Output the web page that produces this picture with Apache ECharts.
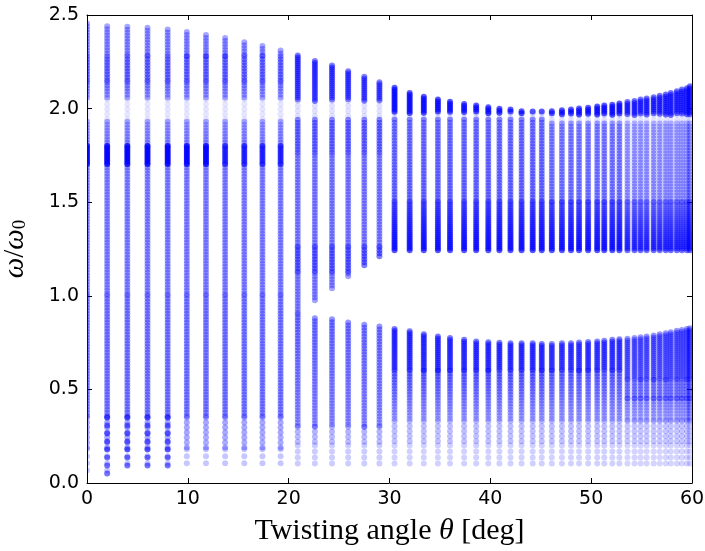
<!DOCTYPE html>
<html>
<head>
<meta charset="utf-8">
<script src="https://cdn.jsdelivr.net/npm/echarts@6/dist/echarts.min.js"></script>
<style>
  html, body { margin: 0; padding: 0; background: #fff; }
  #main { width: 705px; height: 551px; }
</style>
</head>
<body>
<div id="main"></div>
<script>
// twisting angle of each column (deg)
var theta = [0, 2, 4, 6, 8, 9.9, 11.8, 13.7, 15.6, 17.4, 19.2,
    20.9, 22.6, 24.3, 25.9, 27.5, 29.0, 30.5, 32.0, 33.4, 34.8,
    36.0, 37.4, 38.6, 39.8, 40.9, 42.0, 43.1, 44.2, 45.1, 46.1,
    47.1, 48.0, 48.8, 49.7, 50.6, 51.3, 52.1, 52.8, 53.6, 54.3,
    54.9, 55.5, 56.2, 56.8, 57.4, 57.9, 58.5, 59.0, 59.5, 59.8];

// top of upper band
var upTop = [2.455, 2.44, 2.437, 2.432, 2.423, 2.409, 2.393, 2.377, 2.355, 2.334, 2.31,
    2.284, 2.254, 2.23, 2.2, 2.17, 2.141, 2.111, 2.084, 2.063, 2.048,
    2.036, 2.025, 2.016, 2.007, 1.999, 1.995, 1.986, 1.984, 1.984, 1.986,
    1.991, 1.995, 2.0, 2.004, 2.011, 2.016, 2.021, 2.027, 2.035, 2.041,
    2.048, 2.054, 2.061, 2.068, 2.075, 2.084, 2.093, 2.102, 2.109, 2.12];

// bottom of upper band (null = no gap, bands joined)
var upBot = [null, null, null, null, null, null, null, null, null, null, null,
    null, 0.965, 1.025, 1.09, 1.15, 1.205, 1.24, 1.238, 1.243, 1.243,
    1.243, 1.243, 1.243, 1.243, 1.243, 1.243, 1.243, 1.243, 1.243, 1.243,
    1.243, 1.243, 1.243, 1.243, 1.243, 1.243, 1.243, 1.243, 1.243, 1.243,
    1.243, 1.243, 1.243, 1.243, 1.243, 1.243, 1.243, 1.242, 1.241, 1.24];

// top of lower band
var lowTop = [null, null, null, null, null, null, null, null, null, null, null,
    null, 0.88, 0.875, 0.858, 0.845, 0.836, 0.822, 0.81, 0.795, 0.783,
    0.774, 0.765, 0.756, 0.752, 0.749, 0.747, 0.747, 0.747, 0.743, 0.743,
    0.747, 0.747, 0.751, 0.753, 0.756, 0.76, 0.765, 0.768, 0.77, 0.774,
    0.778, 0.783, 0.788, 0.795, 0.8, 0.805, 0.813, 0.817, 0.822, 0.827];

// bottom of lower band
var lowBot = [0.06, 0.045, 0.075, 0.09, 0.085, 0.085, 0.085, 0.085, 0.085, 0.085, 0.085,
    0.085, 0.085, 0.085, 0.085, 0.085, 0.085, 0.085, 0.085, 0.085, 0.085,
    0.085, 0.085, 0.085, 0.085, 0.085, 0.085, 0.085, 0.085, 0.085, 0.085,
    0.085, 0.085, 0.085, 0.085, 0.085, 0.085, 0.085, 0.085, 0.085, 0.085,
    0.085, 0.085, 0.085, 0.085, 0.085, 0.085, 0.085, 0.085, 0.085, 0.085];

// how densely the points sit:
// [yLo, yHi, thetaLo, thetaHi, alpha at yLo, alpha at yHi, spacing px]
var densityRows = [
    // 0 - 20 deg
    [0.0, 0.18, 0, 20, 0.22, 0.22, 7],
    [0.18, 0.35, 0, 20, 0.32, 0.35, 5],
    [0.0, 0.35, 1, 9, 0.55, 0.55, 8],
    [0.35, 1.0, 0, 20, 0.38, 0.38, 3],
    [1.0, 1.7, 0, 20, 0.35, 0.35, 3],
    [1.7, 1.8, 0, 13, 0.75, 0.75, 2],
    [1.7, 1.8, 13, 20, 0.55, 0.55, 2],
    [1.8, 1.93, 0, 20, 0.35, 0.3, 3],
    [1.93, 2.05, 0, 20, 0.1, 0.1, 5],
    [2.05, 2.14, 0, 20, 0.3, 0.4, 3],
    [2.14, 2.28, 0, 20, 0.45, 0.45, 3],
    [2.28, 2.6, 0, 20, 0.35, 0.35, 3],
    // 20 - 30 deg
    [0.0, 0.2, 20, 30, 0.2, 0.2, 6],
    [0.2, 0.3, 20, 30, 0.26, 0.3, 5],
    [0.3, 0.9, 20, 30, 0.32, 0.42, 3],
    [0.9, 1.12, 20, 30, 0.36, 0.36, 3],
    [1.12, 1.26, 20, 30, 0.5, 0.5, 3],
    [1.26, 1.75, 20, 30, 0.36, 0.36, 3],
    [1.75, 1.94, 20, 30, 0.45, 0.45, 3],
    [1.94, 2.04, 20, 30, 0.12, 0.12, 5],
    [2.04, 2.6, 20, 30, 0.45, 0.6, 2],
    // 30 - 46 deg
    [0.0, 0.2, 30, 46, 0.18, 0.18, 6],
    [0.2, 0.33, 30, 46, 0.24, 0.26, 5],
    [0.33, 0.6, 30, 46, 0.26, 0.48, 3],
    [0.6, 0.9, 30, 46, 0.48, 0.55, 2],
    [1.2, 1.5, 30, 46, 0.7, 0.42, 2],
    [1.5, 1.94, 30, 46, 0.42, 0.4, 3],
    [1.94, 1.975, 30, 46, 0.15, 0.15, 5],
    [1.975, 2.6, 30, 46, 0.65, 0.65, 2],
    // 46 - 53 deg
    [0.0, 0.2, 46, 53, 0.18, 0.18, 6],
    [0.2, 0.33, 46, 53, 0.24, 0.26, 5],
    [0.33, 0.6, 46, 53, 0.26, 0.45, 3],
    [0.6, 0.9, 46, 53, 0.45, 0.5, 2],
    [1.2, 1.5, 46, 53, 0.7, 0.38, 2],
    [1.5, 1.92, 46, 53, 0.38, 0.35, 3],
    [1.92, 1.965, 46, 53, 0.12, 0.12, 5],
    [1.965, 2.6, 46, 53, 0.65, 0.65, 2],
    // 53 - 60 deg
    [0.0, 0.2, 53, 61, 0.17, 0.17, 6],
    [0.2, 0.33, 53, 61, 0.22, 0.24, 5],
    [0.33, 0.45, 53, 61, 0.24, 0.32, 3],
    [0.45, 0.55, 53, 61, 0.38, 0.38, 3],
    [0.55, 0.9, 53, 61, 0.36, 0.42, 2],
    [1.2, 1.5, 53, 61, 0.6, 0.3, 2],
    [1.5, 1.92, 53, 61, 0.3, 0.26, 3],
    [1.92, 1.965, 53, 61, 0.1, 0.1, 5],
    [1.965, 2.6, 53, 61, 0.55, 0.55, 2]
];

var colData = theta.map(function (t, i) { return [t, i]; });

function bandsOf(i) {
    if (upBot[i] == null) {
        return [[lowBot[i], upTop[i]]];
    }
    return [[lowBot[i], lowTop[i]], [upBot[i], upTop[i]]];
}

function renderItem(params, api) {
    var th = api.value(0);
    var i = api.value(1);
    var bands = bandsOf(i);
    var cx = api.coord([th, 0])[0];
    var children = [];
    densityRows.forEach(function (r) {
        if (th < r[2] || th >= r[3]) return;
        var rLo = api.coord([th, r[0]])[1];
        var rHi = api.coord([th, r[1]])[1];
        bands.forEach(function (b) {
            var lo = Math.max(r[0], b[0]);
            var hi = Math.min(r[1], b[1]);
            if (hi < lo) return;
            var pLo = api.coord([th, lo])[1];
            var pHi = api.coord([th, hi])[1];
            for (var p = pHi; p <= pLo + 0.01; p += r[6]) {
                var t = (rLo - p) / (rLo - rHi);
                var a = r[4] + (r[5] - r[4]) * t;
                children.push({
                    type: 'circle',
                    shape: { cx: cx, cy: p, r: 3 },
                    style: { fill: 'rgba(0,0,255,' + a.toFixed(3) + ')' }
                });
            }
        });
    });
    return { type: 'group', children: children };
}

var chart = echarts.init(document.getElementById('main'));

var tickFont = { color: '#000', fontSize: 19, fontFamily: 'DejaVu Sans' };
var frameLine = { show: true, onZero: false, lineStyle: { color: '#000', width: 1 } };
var frameTick = { show: true, inside: true, length: 5, lineStyle: { color: '#000' } };

var option = {
    animation: false,
    backgroundColor: '#fff',
    grid: { left: 87, right: 13, top: 15, bottom: 68, containLabel: false, outerBoundsMode: 'none' },
    xAxis: [{
        type: 'value', min: 0, max: 60, interval: 10, position: 'bottom',
        axisLine: frameLine,
        axisTick: frameTick,
        axisLabel: Object.assign({ margin: 7 }, tickFont),
        splitLine: { show: false },
        name: 'Twisting angle {i|θ} [deg]',
        nameLocation: 'middle',
        nameGap: 33,
        nameTextStyle: {
            fontFamily: 'Liberation Serif', fontSize: 30, color: '#000',
            rich: { i: { fontFamily: 'Liberation Serif', fontStyle: 'italic', fontSize: 30, color: '#000' } }
        }
    }, {
        type: 'value', min: 0, max: 60, interval: 10, position: 'top',
        axisLine: frameLine,
        axisTick: frameTick,
        axisLabel: { show: false },
        splitLine: { show: false }
    }],
    yAxis: [{
        type: 'value', min: 0, max: 2.5, interval: 0.5, position: 'left',
        axisLine: frameLine,
        axisTick: frameTick,
        axisLabel: Object.assign({ margin: 8, formatter: function (v) { return v.toFixed(1); } }, tickFont),
        splitLine: { show: false },
        name: '{i|ω}{n|/}{i|ω}{s|0}',
        nameLocation: 'middle',
        nameRotate: 90,
        nameGap: 57,
        nameTextStyle: {
            color: '#000',
            rich: {
                i: { fontFamily: 'Liberation Serif', fontStyle: 'italic', fontSize: 29, color: '#000' },
                n: { fontFamily: 'Liberation Serif', fontSize: 29, color: '#000' },
                s: { fontFamily: 'Liberation Serif', fontSize: 19, color: '#000', padding: [10, 0, 0, 0] }
            }
        }
    }, {
        type: 'value', min: 0, max: 2.5, interval: 0.5, position: 'right',
        axisLine: frameLine,
        axisTick: frameTick,
        axisLabel: { show: false },
        splitLine: { show: false }
    }],
    series: [{
        type: 'custom',
        name: 'modes',
        xAxisIndex: 0,
        yAxisIndex: 0,
        clip: true,
        renderItem: renderItem,
        encode: { x: 0 },
        data: colData
    }]
};

chart.setOption(option);
</script>
</body>
</html>
